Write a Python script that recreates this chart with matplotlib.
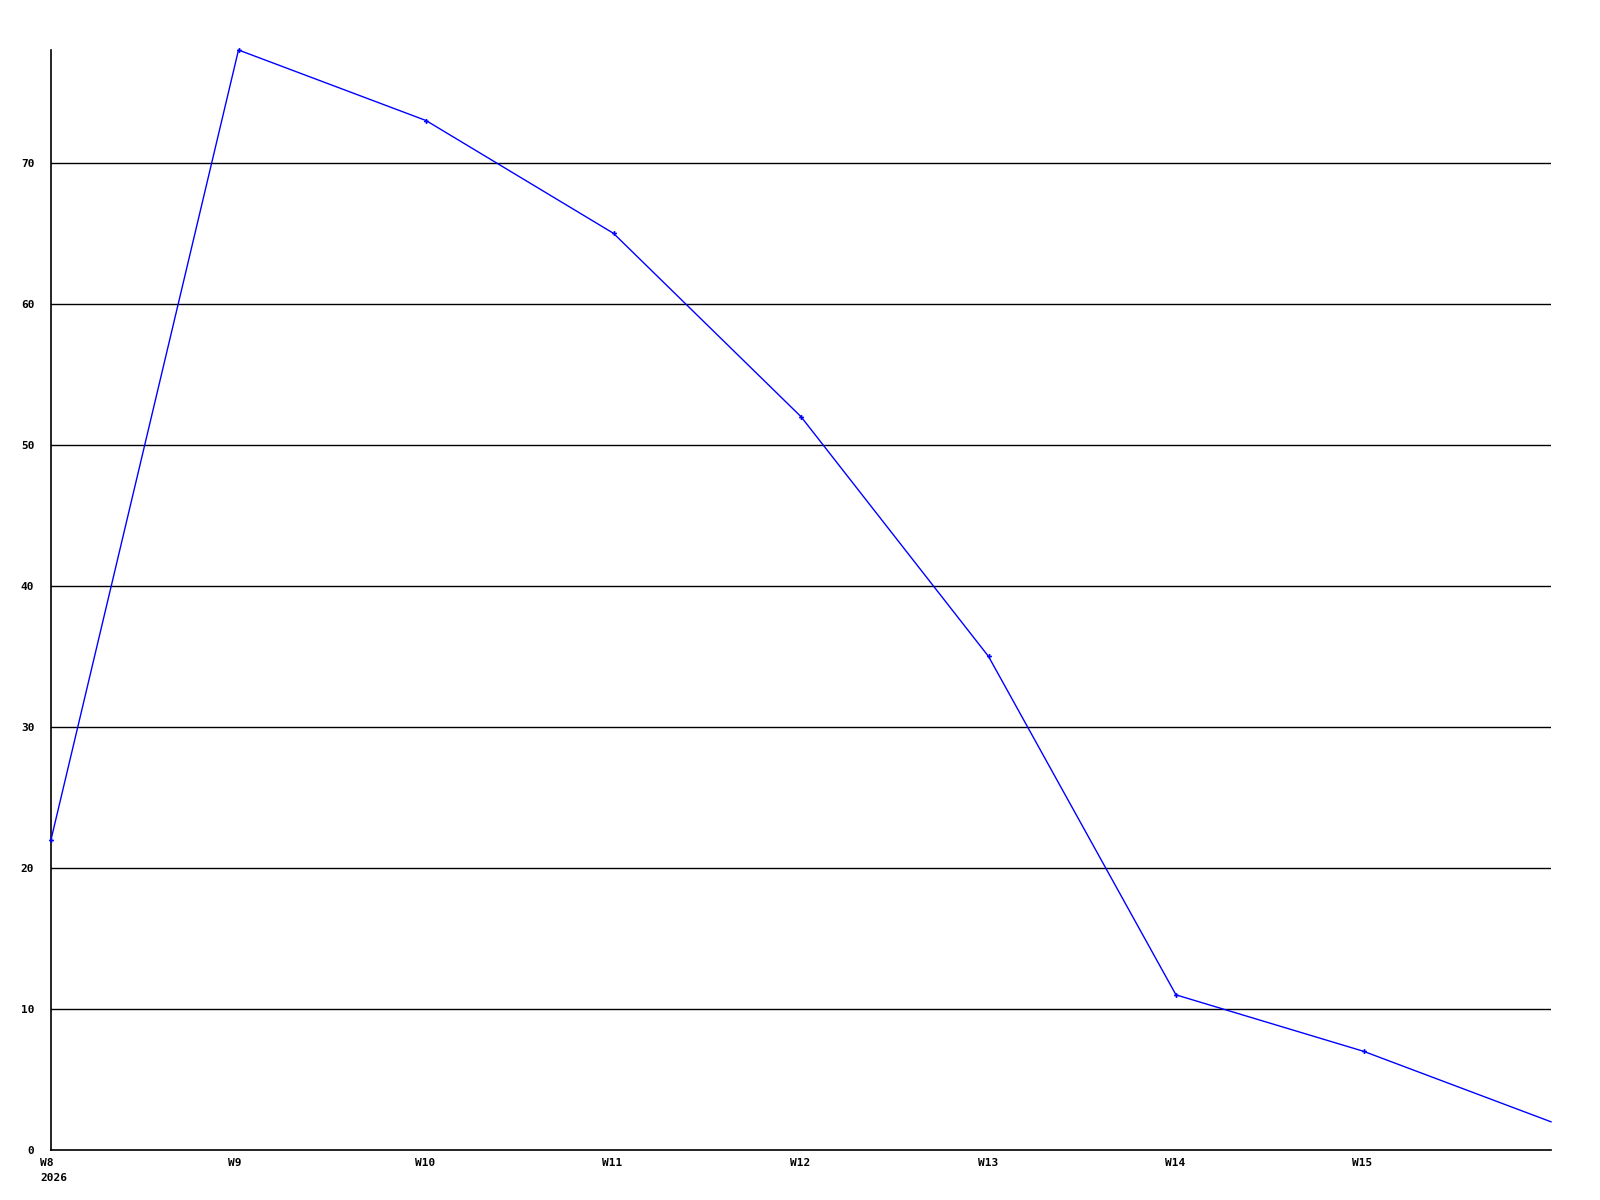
import matplotlib
matplotlib.use("Agg")
import matplotlib.pyplot as plt
from matplotlib.transforms import ScaledTranslation

weeks = ["W8\n2026", "W9", "W10", "W11", "W12", "W13", "W14", "W15", "W16"]
values = [22, 78, 73, 65, 52, 35, 11, 7, 2]
tick_labels = ["W8\n2026", "W9", "W10", "W11", "W12", "W13", "W14", "W15"]
y_ticks = [0, 10, 20, 30, 40, 50, 60, 70]

fig = plt.figure(figsize=(16, 12), dpi=100)
ax = fig.add_axes([51 / 1600, 1 - 1150 / 1200, 1500 / 1600, 1100 / 1200])

x = list(range(len(values)))
ax.plot(x, values, color="#0000ff", linewidth=1.0, zorder=3, clip_on=False)
ax.plot(x[:-1], values[:-1], linestyle="none", color="#0000ff", marker="P",
        markersize=3.5, markeredgewidth=0, zorder=4, clip_on=False)

ax.set_xlim(0, len(values) - 1)
ax.set_ylim(0, max(values))

for yv in y_ticks[1:]:
    ax.axhline(yv, color="black", linewidth=1.0, zorder=1)

ax.spines["top"].set_visible(False)
ax.spines["right"].set_visible(False)
ax.spines["left"].set_linewidth(1.2)
ax.spines["bottom"].set_linewidth(1.2)

font = dict(family="DejaVu Sans Mono", fontweight="bold", fontsize=8)
ax.set_yticks(y_ticks)
ax.set_yticklabels([str(v) for v in y_ticks], **font)
ax.tick_params(axis="y", length=0, pad=12)

ax.set_xticks(list(range(len(tick_labels))))
ax.set_xticklabels(tick_labels, ha="left", linespacing=1.6, **font)
ax.tick_params(axis="x", length=0, pad=6)
offset = ScaledTranslation(-11 / 100, 0, fig.dpi_scale_trans)
for lbl in ax.get_xticklabels():
    lbl.set_transform(lbl.get_transform() + offset)

fig.savefig("out.png", dpi=100, facecolor="white")
